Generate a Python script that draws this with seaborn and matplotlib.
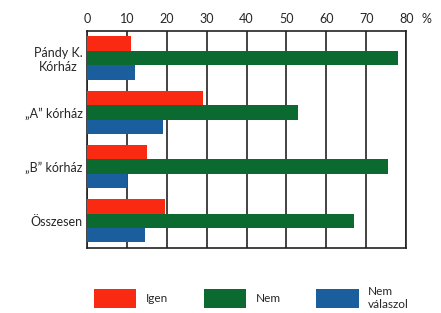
import pandas as pd
import matplotlib.pyplot as plt
import seaborn as sns

# Data (percent)
hospitals = ["Pándy K.\nKórház", "„A” kórház", "„B” kórház", "Összesen"]
answers = ["Igen", "Nem", "Nem\nválaszol"]
igen = [11, 29, 15, 19.5]
nem = [78, 53, 75.5, 67]
nem_valaszol = [12, 19, 10, 14.5]
colors = ["#fa2a12", "#0b6a30", "#1a5e9e"]

rows = []
for i, h in enumerate(hospitals):
    for a, vals in zip(answers, [igen, nem, nem_valaszol]):
        rows.append({"hospital": h, "answer": a, "value": vals[i]})
df = pd.DataFrame(rows)

sns.set_style("white")
plt.rcParams['font.family'] = ['Lato', 'DejaVu Sans']

fig = plt.figure(figsize=(4.41, 3.13), dpi=100)
ax = fig.add_axes([0.197, 0.208, 0.724, 0.693])

sns.barplot(data=df, y="hospital", x="value", hue="answer", orient="h",
            palette=colors, width=0.8, saturation=1, linewidth=0,
            ax=ax, zorder=3)

ax.set_xlim(0, 80)
ax.set_xticks(range(0, 81, 10))
ax.xaxis.tick_top()
ax.tick_params(axis="x", length=0, pad=4, labelsize=9)
ax.tick_params(axis="y", length=0, pad=3, labelsize=9)
for lab in ax.get_yticklabels():
    lab.set_multialignment("center")
ax.grid(axis="x", color="#222222", linewidth=1.2, zorder=0)
ax.set_axisbelow(True)
for s in ax.spines.values():
    s.set_color("#222222")
    s.set_linewidth(1.2)
    s.set_visible(True)
ax.set_xlabel("")
ax.set_ylabel("")
ax.annotate("%", xy=(1.065, 1.0), xycoords="axes fraction", xytext=(0, 4),
            textcoords="offset points", fontsize=9, va="bottom", ha="center")

handles, labels = ax.get_legend_handles_labels()
ax.get_legend().remove()
fig.legend(handles, labels, loc="center left",
           bbox_to_anchor=(88 / 441, 1 - 298 / 313),
           ncol=3, frameon=False, fontsize=8.5, handlelength=3.6,
           handleheight=2.1, columnspacing=3.0, handletextpad=0.8,
           borderpad=0)

fig.savefig("out.png", dpi=100)
